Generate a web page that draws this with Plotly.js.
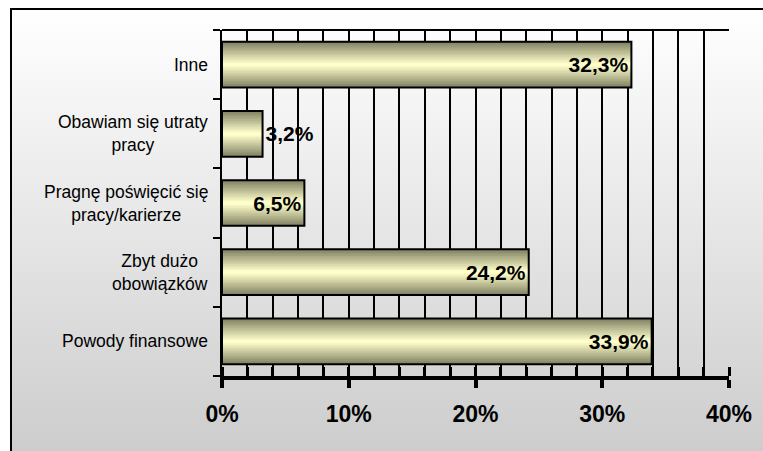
<!DOCTYPE html>
<html>
<head>
<meta charset="utf-8">
<script src="https://cdn.plot.ly/plotly-3.0.1.min.js"></script>
<style>
  html, body { margin: 0; padding: 0; background: #ffffff; overflow: hidden; }
  #frame {
    position: absolute; left: 10px; top: 8px; width: 800px; height: 500px;
    border: 2px solid #000;
    background: linear-gradient(to bottom, #ffffff 0%, #c6c6c6 100%);
  }
  #chart { position: absolute; left: 0; top: 0; width: 763px; height: 451px; }
</style>
</head>
<body>
<div id="frame"></div>
<div id="chart"></div>
<script>
// Reasons (bottom to top on the category axis)
const categories = [
  'Powody finansowe',
  'Zbyt dużo obowiązków',
  'Pragnę poświęcić się pracy/karierze',
  'Obawiam się utraty pracy',
  'Inne'
];
const categoryLabels = [
  'Powody finansowe',
  'Zbyt dużo<br>obowiązków',
  'Pragnę poświęcić się<br>pracy/karierze',
  'Obawiam się utraty<br>pracy',
  'Inne'
];
const values = [33.9, 24.2, 6.5, 3.2, 32.3];   // percent
const xTicks = [0, 10, 20, 30, 40];
const xTickText = ['0%', '10%', '20%', '30%', '40%'];

const FONT = 'Liberation Sans, Arial, sans-serif';
const BAR_W = 0.66;
const LAYERS = 14;
const edge = [132, 132, 102];
const centre = [255, 255, 204];

// Cylinder-like shading: stacked bars of shrinking thickness, dark at the edges
const traces = [];
for (let k = 0; k < LAYERS; k++) {
  const t = k / (LAYERS - 1);
  const c = edge.map((e, i) => Math.round(e + (centre[i] - e) * t));
  traces.push({
    type: 'bar', orientation: 'h',
    x: values, y: categories,
    width: BAR_W * (1 - k / LAYERS),
    marker: { color: 'rgb(' + c.join(',') + ')', line: { width: 0 } },
    hoverinfo: 'skip', showlegend: false
  });
}
// Outline + value labels on top
traces.push({
  type: 'bar', orientation: 'h',
  x: values, y: categories,
  width: BAR_W,
  marker: { color: 'rgba(0,0,0,0)', line: { color: '#000', width: 2 } },
  texttemplate: '%{x:.1f}%',
  textposition: 'auto',
  insidetextanchor: 'end',
  constraintext: 'none',
  cliponaxis: false,
  textfont: { family: FONT, size: 21, color: '#000', weight: 'bold' },
  insidetextfont: { family: FONT, size: 21, color: '#000', weight: 'bold' },
  outsidetextfont: { family: FONT, size: 21, color: '#000', weight: 'bold' },
  hoverinfo: 'skip', showlegend: false
});

const layout = {
  width: 763, height: 451,
  margin: { l: 222, r: 34, t: 30, b: 75 },
  paper_bgcolor: 'rgba(0,0,0,0)',
  plot_bgcolor: 'rgba(0,0,0,0)',
  separators: ', ',
  barmode: 'overlay',
  showlegend: false,
  font: { family: FONT, color: '#000' },
  xaxis: {
    range: [0, 40],
    tickmode: 'array',
    tickvals: xTicks,
    ticktext: xTickText,
    showgrid: true, gridcolor: '#000', gridwidth: 2,
    zeroline: false,
    showline: true, linecolor: '#000', linewidth: 4,
    ticks: 'outside', ticklen: 8, tickwidth: 4, tickcolor: '#000',
    ticklabelstandoff: 6,
    tickfont: { family: FONT, size: 23, color: '#000', weight: 'bold' },
    minor: {
      dtick: 2, showgrid: true, gridcolor: '#000', gridwidth: 2,
      ticks: 'inside', ticklen: 9, tickwidth: 3, tickcolor: '#000'
    },
    fixedrange: true
  },
  yaxis: {
    type: 'category',
    categoryorder: 'array', categoryarray: categories,
    showticklabels: false,
    showgrid: false, zeroline: false,
    showline: true, linecolor: '#000', linewidth: 2,
    ticks: 'outside', tickson: 'boundaries', ticklen: 7, tickwidth: 2, tickcolor: '#000',
    fixedrange: true
  },
  shapes: [{
    type: 'line', xref: 'paper', yref: 'paper',
    x0: 0, x1: 1, y0: 1, y1: 1,
    line: { color: '#000', width: 2 }
  }],
  annotations: categories.map((c, i) => ({
    x: 0, xref: 'paper', y: c, yref: 'y',
    xanchor: 'right', yanchor: 'middle', align: 'center',
    xshift: -12, showarrow: false,
    text: categoryLabels[i],
    font: { family: FONT, size: 17.5, color: '#000' }
  }))
};

Plotly.newPlot('chart', traces, layout, { displayModeBar: false, staticPlot: true });
</script>
</body>
</html>
